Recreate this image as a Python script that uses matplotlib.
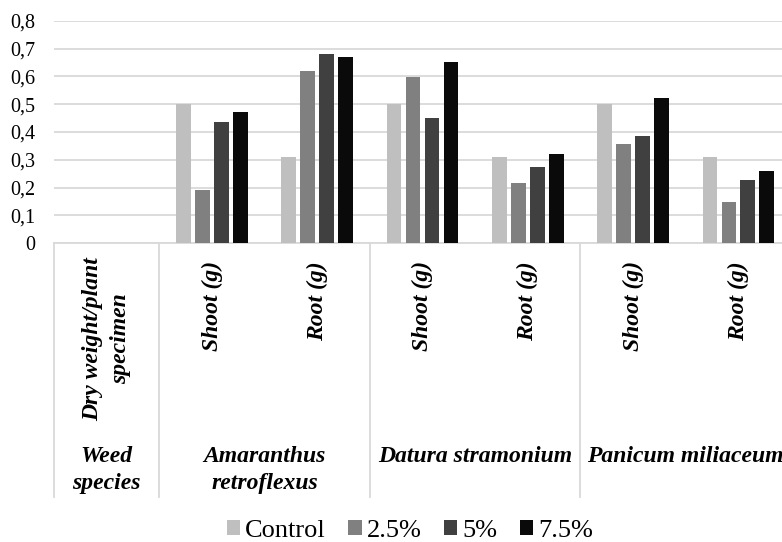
import matplotlib
matplotlib.use("Agg")
import matplotlib.pyplot as plt
import matplotlib.transforms as mtransforms
from matplotlib.ticker import FuncFormatter
import numpy as np

plt.rcParams['font.family'] = ['Liberation Serif', 'DejaVu Serif']

# x categories (first one is the header column, no bars)
categories = ['Dry weight/plant\nspecimen', 'Shoot (g)', 'Root (g)',
              'Shoot (g)', 'Root (g)', 'Shoot (g)', 'Root (g)']
groups = ['Weed\nspecies', 'Amaranthus\nretroflexus', 'Datura stramonium', 'Panicum miliaceum']
group_spans = [(0, 0), (1, 2), (3, 4), (5, 6)]

series_names = ['Control', '2.5%', '5%', '7.5%']
control = [0.50, 0.31, 0.50, 0.31, 0.50, 0.31]
pct_2_5 = [0.19, 0.62, 0.60, 0.215, 0.357, 0.148]
pct_5 = [0.436, 0.682, 0.449, 0.273, 0.384, 0.227]
pct_7_5 = [0.473, 0.669, 0.652, 0.320, 0.521, 0.259]
series = [control, pct_2_5, pct_5, pct_7_5]
colors = ['#BFBFBF', '#808080', '#404040', '#0A0A0A']

fig = plt.figure(figsize=(7.82, 5.42), dpi=100)
W, H = 782, 542
ax = fig.add_axes([54 / W, 1 - 243 / H, 737 / W, 222 / H])

x = np.arange(1, len(categories))
width = 0.14
offsets = [-0.27, -0.09, 0.09, 0.27]
for vals, name, col, off in zip(series, series_names, colors, offsets):
    ax.bar(x + off, vals, width, color=col, label=name, zorder=3)

ax.set_xlim(-0.5, len(categories) - 0.5)
ax.set_ylim(0, 0.8)
ax.set_yticks(np.arange(0, 0.81, 0.1))
ax.yaxis.set_major_formatter(FuncFormatter(lambda v, p: '0' if abs(v) < 1e-9 else f'{v:.1f}'.replace('.', ',')))
ax.tick_params(axis='y', length=0, pad=13.5, labelsize=14.5)
ax.set_xticks([])
ax.grid(axis='y', color='#D9D9D9', lw=1.3, zorder=0)
for s in ['top', 'right', 'left']:
    ax.spines[s].set_visible(False)
ax.spines['bottom'].set_color('#D9D9D9')
ax.spines['bottom'].set_linewidth(1.3)

trans = mtransforms.blended_transform_factory(ax.transData, ax.transAxes)
line_bottom = (243 - 497) / 222

# category labels
for i, lab in enumerate(categories):
    top = -14 / 222 if '\n' in lab else -18 / 222
    ax.text(i, top, lab, transform=trans, rotation=90, ha='center', va='top',
            fontsize=17, fontweight='bold', fontstyle='italic', multialignment='center',
            linespacing=1.45)

# group labels and separators
for g, (a, b) in zip(groups, group_spans):
    ax.text((a + b) / 2, (243 - 446) / 222, g, transform=trans, ha='center', va='top',
            fontsize=17, fontweight='bold', fontstyle='italic', linespacing=1.4)
    ax.plot([a - 0.5, a - 0.5], [0, line_bottom], transform=trans, color='#D9D9D9',
            lw=1.3, clip_on=False)
ax.plot([6.5, 6.5], [0, line_bottom], transform=trans, color='#D9D9D9', lw=1.3, clip_on=False)

fig.legend(loc='center', bbox_to_anchor=(410 / W, 1 - 531 / H), ncol=4, frameon=False,
           fontsize=19, handlelength=0.5, handleheight=0.5, handletextpad=0.2,
           columnspacing=0.85, borderaxespad=0)

fig.savefig('out.png', dpi=100)
